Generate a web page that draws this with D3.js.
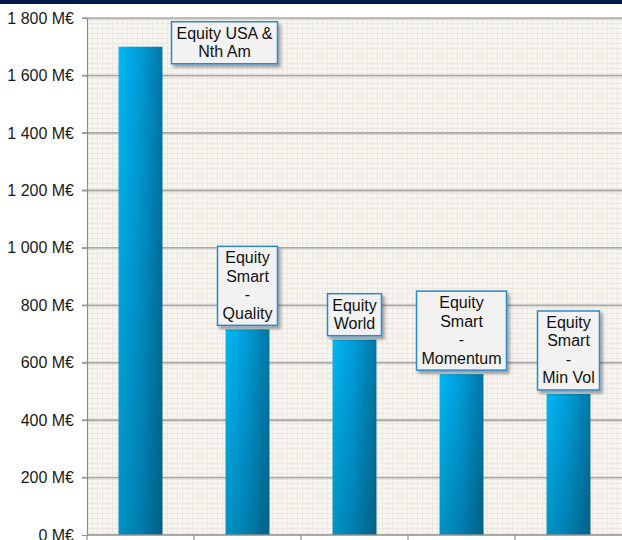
<!DOCTYPE html>
<html>
<head>
<meta charset="utf-8">
<script src="https://cdn.jsdelivr.net/npm/d3@7"></script>
<style>
  body { margin: 0; background: #fff; }
  svg { display: block; font-family: "Liberation Sans", Arial, sans-serif; }
</style>
</head>
<body>
<svg id="chart" width="622" height="540"></svg>
<script>
// fund categories and assets (M€)
var categories = ['usa', 'quality', 'world', 'momentum', 'minvol'];
var labels = [
  ['Equity USA &', 'Nth Am'],
  ['Equity', 'Smart', '-', 'Quality'],
  ['Equity', 'World'],
  ['Equity', 'Smart', '-', 'Momentum'],
  ['Equity', 'Smart', '-', 'Min Vol']
];
var assets = [1700, 716, 680, 560, 491];
var yTicks = [0, 200, 400, 600, 800, 1000, 1200, 1400, 1600, 1800];

var W = 622, H = 540;
var m = { left: 87, right: 0, top: 18, bottom: 5 };

var svg = d3.select('#chart');
var defs = svg.append('defs');

// background small grid pattern
var pat = defs.append('pattern')
  .attr('id', 'grid').attr('patternUnits', 'userSpaceOnUse')
  .attr('width', 5).attr('height', 5)
  .attr('x', m.left).attr('y', m.top);
pat.append('rect').attr('width', 5).attr('height', 5).attr('fill', '#f6f5f0');
pat.append('path').attr('d', 'M0 0.5H5M0.5 0V5')
  .attr('stroke', '#ebe8e1').attr('stroke-width', 1).attr('fill', 'none');

var gH = defs.append('linearGradient').attr('id', 'barH')
  .attr('x1', 0).attr('y1', 0).attr('x2', 1).attr('y2', 0);
gH.append('stop').attr('offset', '0%').attr('stop-color', '#00b7f3');
gH.append('stop').attr('offset', '45%').attr('stop-color', '#009fdb');
gH.append('stop').attr('offset', '100%').attr('stop-color', '#0077a6');

var gV = defs.append('linearGradient').attr('id', 'barV')
  .attr('x1', 0).attr('y1', 0).attr('x2', 0).attr('y2', 1);
gV.append('stop').attr('offset', '0%').attr('stop-color', '#000').attr('stop-opacity', 0);
gV.append('stop').attr('offset', '100%').attr('stop-color', '#000').attr('stop-opacity', 0.2);

var sh = defs.append('filter').attr('id', 'shadow')
  .attr('x', '-20%').attr('y', '-20%').attr('width', '150%').attr('height', '150%');
sh.append('feDropShadow').attr('dx', 2.5).attr('dy', 3).attr('stdDeviation', 1.5)
  .attr('flood-color', '#000').attr('flood-opacity', 0.35);

// top banner
svg.append('rect').attr('x', 0).attr('y', 0).attr('width', W).attr('height', 4)
  .attr('fill', '#001a4b');

var x = d3.scaleBand().domain(categories)
  .range([m.left, W - m.right]).paddingInner(0.59).paddingOuter(0.295);
var y = d3.scaleLinear().domain([0, 1800]).range([H - m.bottom, m.top]);

svg.append('rect')
  .attr('x', m.left).attr('y', m.top)
  .attr('width', W - m.left - m.right).attr('height', y(0) - m.top)
  .attr('fill', 'url(#grid)');

var fmt = function(d) {
  var s = d >= 1000 ? Math.floor(d / 1000) + ' ' + String(d % 1000).padStart(3, '0') : String(d);
  return s + ' M€';
};

// gridlines
var grid = svg.append('g');
yTicks.forEach(function(t) {
  if (t === 0) return;
  grid.append('line').attr('x1', m.left).attr('x2', W)
    .attr('y1', y(t) + 1.5).attr('y2', y(t) + 1.5)
    .attr('stroke', '#d9d7d2').attr('stroke-width', 1);
  grid.append('line').attr('x1', m.left - 5).attr('x2', W)
    .attr('y1', y(t)).attr('y2', y(t))
    .attr('stroke', '#aaa8a4').attr('stroke-width', 1.6);
});

// y axis
var yAxis = svg.append('g').attr('transform', 'translate(' + m.left + ',0)')
  .call(d3.axisLeft(y).tickValues(yTicks).tickFormat(fmt).tickSize(5).tickPadding(8));
yAxis.select('.domain').attr('stroke', '#8e8e8e').attr('stroke-width', 1.2);
yAxis.selectAll('.tick line').attr('stroke', '#8e8e8e');
yAxis.selectAll('.tick text').attr('font-size', 16).attr('fill', '#1a1a1a')
  .attr('font-family', '"Liberation Sans", Arial, sans-serif');

// bars
var bars = svg.append('g');
categories.forEach(function(c, i) {
  var bx = x(c), by = y(assets[i]), bw = x.bandwidth(), bh = y(0) - y(assets[i]);
  bars.append('rect').attr('x', bx).attr('y', by).attr('width', bw).attr('height', bh)
    .attr('fill', 'url(#barH)');
  bars.append('rect').attr('x', bx).attr('y', by).attr('width', bw).attr('height', bh)
    .attr('fill', 'url(#barV)');
});

// x axis
svg.append('line').attr('x1', m.left).attr('x2', W).attr('y1', y(0)).attr('y2', y(0))
  .attr('stroke', '#8e8e8e').attr('stroke-width', 1.5);
d3.range(categories.length).forEach(function(i) {
  var tx = Math.round(m.left + i * x.step());
  svg.append('line').attr('x1', tx).attr('x2', tx).attr('y1', y(0)).attr('y2', H)
    .attr('stroke', '#8e8e8e').attr('stroke-width', 1.2);
});

// data labels (first one dragged aside)
var shift = [[84, 21], [0, 0], [0, 0], [0, 0], [0, 0]];
var lineH = 18.5, padX = 5;
var lab = svg.append('g');
categories.forEach(function(c, i) {
  var g = lab.append('g');
  var cx = x(c) + x.bandwidth() / 2 + shift[i][0];
  var bottom = y(assets[i]) - 4 + shift[i][1];
  var h = labels[i].length * lineH + 5;
  var top = bottom - h;
  var box = g.append('rect').attr('y', top).attr('height', h)
    .attr('fill', '#f2f2f2').attr('stroke', '#2f87c7').attr('stroke-width', 1.5)
    .attr('filter', 'url(#shadow)');
  var wMax = 0;
  labels[i].forEach(function(t, k) {
    var tt = g.append('text').attr('x', cx).attr('y', top + 17 + k * lineH)
      .attr('text-anchor', 'middle').attr('font-size', 16).attr('fill', '#111').text(t);
    wMax = Math.max(wMax, tt.node().getComputedTextLength());
  });
  var bw = Math.round(wMax + 2 * padX);
  box.attr('x', cx - bw / 2).attr('width', bw);
});
</script>
</body>
</html>
